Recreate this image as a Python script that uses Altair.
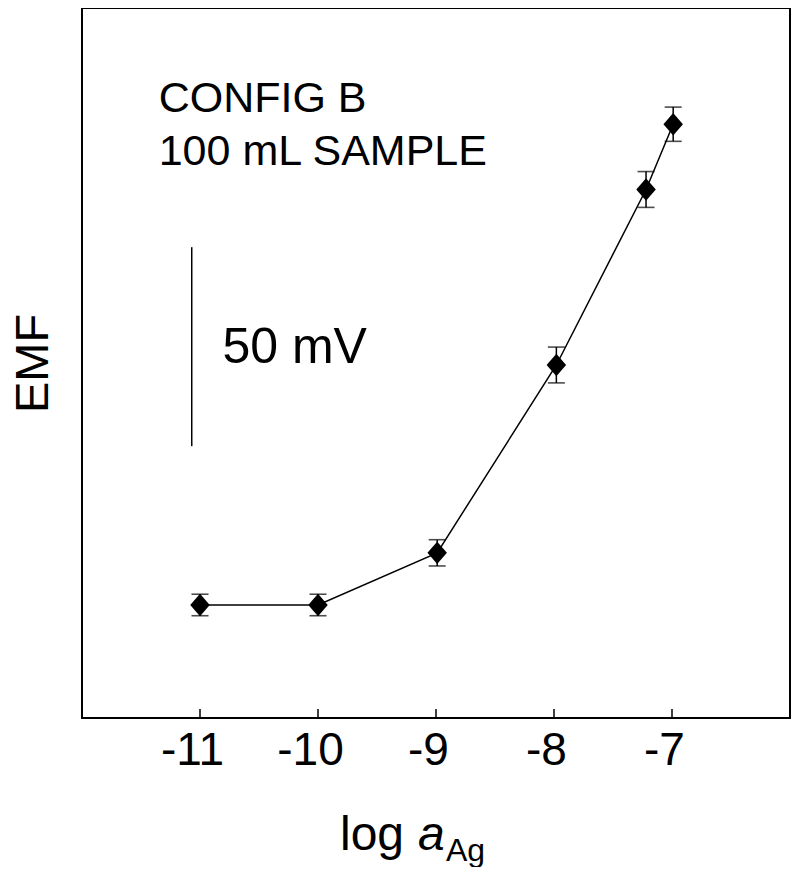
import altair as alt
import pandas as pd

# data
log_a = [-11.0, -10.0, -8.99, -7.98, -7.22, -6.99]
emf = [28.4, 28.4, 41.5, 88.7, 132.8, 149.2]
err = [2.7, 2.7, 3.3, 4.5, 4.5, 4.3]
tick_values = [-11, -10, -9, -8, -7]
scale_bar_x = [-11.07]
scale_bar_lo = [68.3]
scale_bar_hi = [118.3]
notes = ["CONFIG B", "100 mL SAMPLE"]
notes_x = [-11.35, -11.35]
notes_y = [152.3, 139.0]
bar_label = ["50 mV"]
bar_label_x = [-10.81]
bar_label_y = [93.0]

FONT = "Liberation Sans"

df = pd.DataFrame({"x": log_a, "y": emf, "e": err})
df["lo"] = df["y"] - df["e"]
df["hi"] = df["y"] + df["e"]

xs = alt.Scale(domain=[-12, -6], nice=False, zero=False)
ys = alt.Scale(domain=[0, 178.4], nice=False, zero=False)

base = alt.Chart(df)

line = base.mark_line(color="black", strokeWidth=1.5).encode(
    x=alt.X("x:Q", scale=xs,
            axis=alt.Axis(values=tick_values, ticks=False, domain=False, grid=False,
                          labelFontSize=46, labelFont=FONT, labelColor="black",
                          labelPadding=10, labelOffset=-8,
                          labelExpr="'-' + abs(datum.value)",
                          title=None)),
    y=alt.Y("y:Q", scale=ys,
            axis=alt.Axis(labels=False, ticks=False, domain=False, grid=False,
                          title="EMF", titleFontSize=47, titleFont=FONT,
                          titleFontWeight="normal", titleColor="black",
                          titlePadding=25)),
)

ebar = base.mark_rule(color="black", strokeWidth=1.5).encode(
    x="x:Q", y="lo:Q", y2="hi:Q")
cap_lo = base.mark_tick(color="black", orient="horizontal", size=17, thickness=1.6).encode(
    x="x:Q", y="lo:Q")
cap_hi = base.mark_tick(color="black", orient="horizontal", size=17, thickness=1.6).encode(
    x="x:Q", y="hi:Q")
pts = base.mark_point(shape="M0,-1.15L1,0L0,1.15L-1,0Z", size=380, filled=True,
                      color="black", opacity=1).encode(x="x:Q", y="y:Q")

ticks = alt.Chart(pd.DataFrame({"t": tick_values})).mark_rule(
    color="black", strokeWidth=1.5).encode(
    x="t:Q", y=alt.value(710), y2=alt.value(701))

bar = alt.Chart(pd.DataFrame({"x": scale_bar_x, "lo": scale_bar_lo, "hi": scale_bar_hi})
                ).mark_rule(color="black", strokeWidth=1.5).encode(
    x="x:Q", y="lo:Q", y2="hi:Q")

bar_txt = alt.Chart(pd.DataFrame({"x": bar_label_x, "y": bar_label_y, "t": bar_label})
                    ).mark_text(align="left", baseline="middle", fontSize=50, font=FONT,
                                color="black").encode(x="x:Q", y="y:Q", text="t:N")

note_txt = alt.Chart(pd.DataFrame({"x": notes_x, "y": notes_y, "t": notes})
                     ).mark_text(align="left", baseline="alphabetic", fontSize=43, font=FONT,
                                 color="black").encode(x="x:Q", y="y:Q", text="t:N")

t_log = alt.Chart(pd.DataFrame({"t": ["log"]})).mark_text(
    align="left", baseline="alphabetic", fontSize=48, font=FONT, color="black").encode(
    x=alt.value(258), y=alt.value(842), text="t:N")
t_a = alt.Chart(pd.DataFrame({"t": ["a"]})).mark_text(
    align="left", baseline="alphabetic", fontSize=48, font=FONT, fontStyle="italic",
    color="black").encode(x=alt.value(336), y=alt.value(842), text="t:N")
t_ag = alt.Chart(pd.DataFrame({"t": ["Ag"]})).mark_text(
    align="left", baseline="alphabetic", fontSize=32, font=FONT, color="black").encode(
    x=alt.value(364), y=alt.value(853), text="t:N")

chart = alt.layer(line, ebar, cap_lo, cap_hi, pts, ticks, bar, bar_txt, note_txt,
                  t_log, t_a, t_ag).properties(
    width=708, height=710,
    autosize=alt.AutoSizeParams(type="none"),
    padding={"left": 74, "top": 0, "right": 2, "bottom": 149},
).configure(background="white").configure_view(stroke="black", strokeWidth=2)

chart.save("out.html", embed_options={"renderer": "svg", "actions": False})
